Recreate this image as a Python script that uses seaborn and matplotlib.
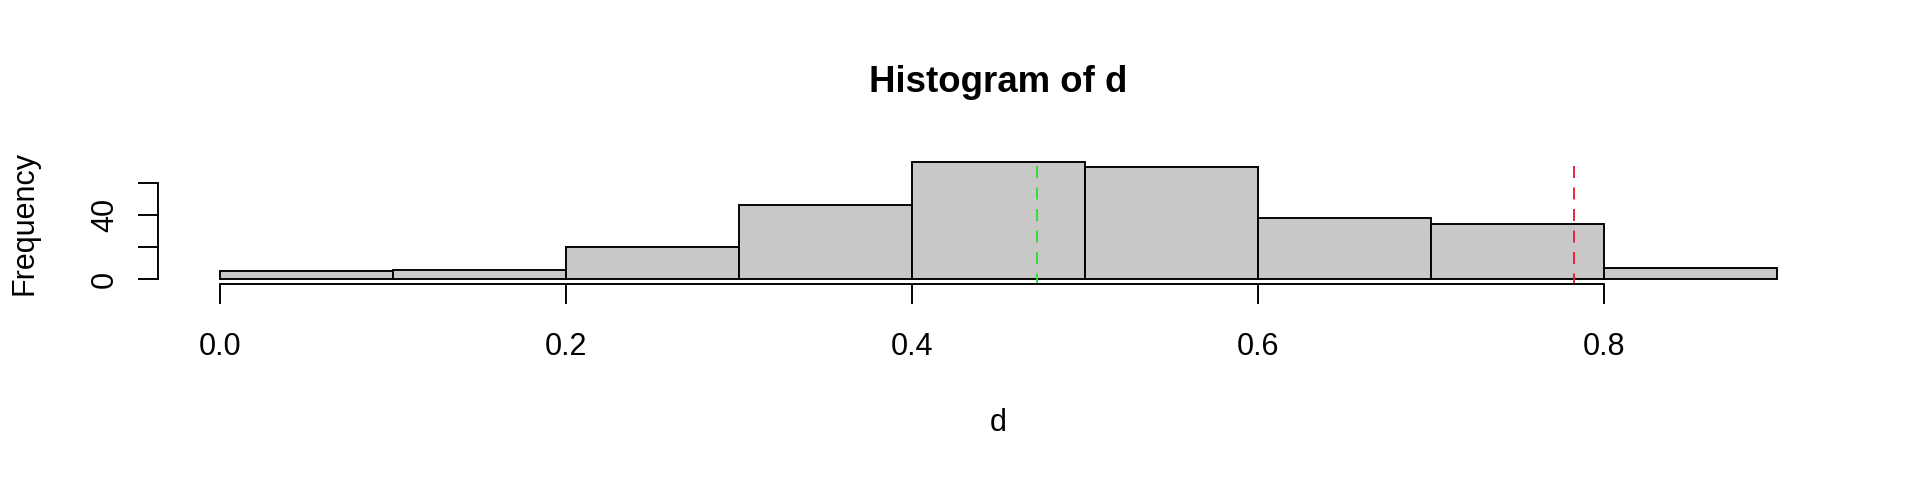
import matplotlib
matplotlib.use("Agg")
import matplotlib.pyplot as plt
import seaborn as sns
import numpy as np
import pandas as pd

# ---- data ----
bin_edges = [0.0, 0.1, 0.2, 0.3, 0.4, 0.5, 0.6, 0.7, 0.8, 0.9]
bin_centers = [0.05, 0.15, 0.25, 0.35, 0.45, 0.55, 0.65, 0.75, 0.85]
counts = [5, 6, 20, 46, 73, 70, 38, 34, 7]
vline_x = [0.4725, 0.783]
vline_colors = ["#2EE02E", "#F01E32"]
vline_top = 70.2
x_ticks = [0.0, 0.2, 0.4, 0.6, 0.8]
x_tick_labels = ["0.0", "0.2", "0.4", "0.6", "0.8"]
y_ticks = [0, 20, 40, 60]
y_tick_labels = ["0", "", "40", ""]
title = "Histogram of d"
xlabel = "d"
ylabel = "Frequency"

sns.set_style("white")
plt.rcParams["font.family"] = ["Liberation Sans", "DejaVu Sans"]
plt.rcParams["text.color"] = "black"
plt.rcParams["xtick.color"] = "black"
plt.rcParams["ytick.color"] = "black"
plt.rcParams["axes.labelcolor"] = "black"

LW = 1.37
fig = plt.figure(figsize=(19.2, 4.8), dpi=100)
ax = fig.add_axes([157.7 / 1920, 1 - 283.9 / 480, (1839 - 157.7) / 1920, (283.9 - 157) / 480])

df = pd.DataFrame({"x": bin_centers, "w": counts})
sns.histplot(data=df, x="x", weights="w", bins=bin_edges, ax=ax,
             color="#C8C8C8", edgecolor="black", linewidth=LW, alpha=1)

for xv, c in zip(vline_x, vline_colors):
    ax.plot([xv, xv], [vline_top, -2.6], color=c, linewidth=LW,
            linestyle=(0, (6.3, 5.0)), zorder=5)

ax.set_xlim(-0.036, 0.936)
ax.set_ylim(-2.92, 75.92)

for s in ["top", "right"]:
    ax.spines[s].set_visible(False)
for s in ["left", "bottom"]:
    ax.spines[s].set_linewidth(LW)
    ax.spines[s].set_color("black")
ax.spines["left"].set_bounds(0, 60)
ax.spines["bottom"].set_bounds(0, 0.8)

ax.set_xticks(x_ticks)
ax.set_xticklabels(x_tick_labels)
ax.set_yticks(y_ticks)
ax.set_yticklabels(y_tick_labels, rotation=90, va="center")
ax.tick_params(axis="both", which="major", direction="out", length=14.4, width=LW,
               colors="black", labelcolor="black", labelsize=22,
               bottom=True, left=True, top=False, right=False)
ax.tick_params(axis="x", pad=20.5)
ax.tick_params(axis="y", pad=12.7)
ax.set_xlabel("")
ax.set_ylabel("")
ax.grid(False)

fig.text(998 / 1920, 1 - 91.5 / 480, title, ha="center", va="baseline",
         fontsize=26.4, fontweight="bold", color="black")
fig.text(998 / 1920, 1 - 431 / 480, xlabel, ha="center", va="baseline",
         fontsize=22, color="black")
fig.text(24 / 1920, 1 - 223 / 480, ylabel, ha="center", va="center",
         rotation=90, fontsize=22, color="black")

fig.savefig("out.png", dpi=100, facecolor="white")
